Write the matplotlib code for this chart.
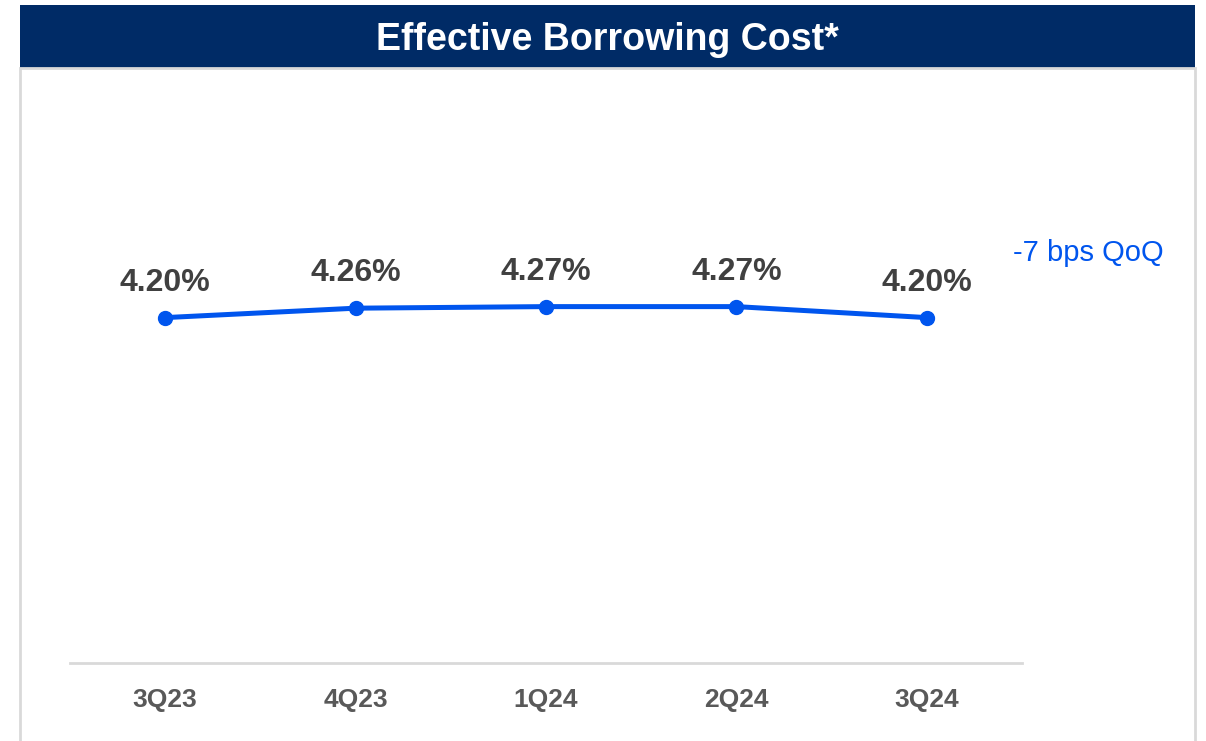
import matplotlib.pyplot as plt
from matplotlib.patches import Rectangle

plt.rcParams['font.family'] = ['Liberation Sans', 'DejaVu Sans']

# quarterly effective borrowing cost (%)
quarters = ['3Q23', '4Q23', '1Q24', '2Q24', '3Q24']
cost = [4.20, 4.26, 4.27, 4.27, 4.20]
change_note = '-7 bps QoQ'

W, H = 1206, 741
navy = '#002B66'
blue = '#0055EE'

fig = plt.figure(figsize=(W / 100, H / 100), dpi=100)

# outer panel border
fig.add_artist(Rectangle((20 / W, -0.01), 1175 / W, 1 - 68 / H + 0.01,
                         transform=fig.transFigure, facecolor='none',
                         edgecolor='#D9D9D9', lw=2))

# title banner
hdr = fig.add_axes([20 / W, 1 - 68 / H, 1175 / W, 63 / H])
hdr.set_facecolor(navy)
hdr.set_xticks([])
hdr.set_yticks([])
for s in hdr.spines.values():
    s.set_visible(False)
hdr.text(0.5, 0.44, 'Effective Borrowing Cost*', color='white', fontsize=27,
         fontweight='bold', ha='center', va='center', transform=hdr.transAxes)

# line chart
ax = fig.add_axes([70 / W, 78 / H, 952 / W, 471 / H])
x = range(len(quarters))
ax.plot(x, cost, color=blue, lw=3.6, marker='o', markersize=10, solid_capstyle='round')
for xi, v in zip(x, cost):
    ax.annotate(f'{v:.2f}%', (xi, v), xytext=(0, 25), textcoords='offset points',
                ha='center', va='center', fontsize=23, fontweight='bold', color='#404040')

ax.set_xlim(-0.5, len(quarters) - 0.5)
ax.set_ylim(2.0, 5.0)
ax.set_xticks(list(x))
ax.set_xticklabels(quarters, fontsize=19, fontweight='bold', color='#595959')
ax.set_yticks([])
ax.tick_params(axis='x', length=0, pad=18)
for s in ['top', 'right', 'left']:
    ax.spines[s].set_visible(False)
ax.spines['bottom'].set_color('#D9D9D9')
ax.spines['bottom'].set_linewidth(2)

fig.text(1013 / W, 1 - 253 / H, change_note, color=blue, fontsize=21,
         ha='left', va='center')

fig.savefig('out.png', dpi=100)
